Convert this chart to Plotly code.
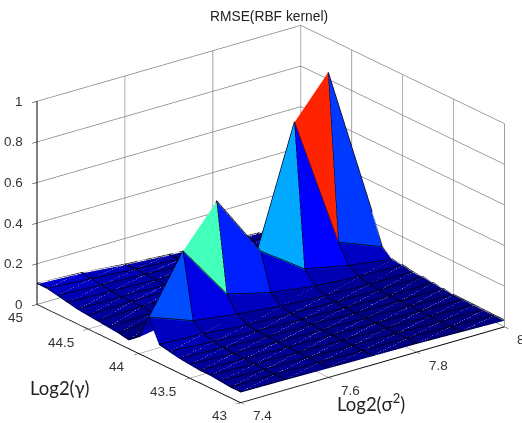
import plotly.graph_objects as go

sigma = [7.4, 7.5, 7.6, 7.7, 7.8, 7.9, 8.0]
gamma = [43.0, 43.1, 43.2, 43.3, 43.4, 43.5, 43.6, 43.7, 43.8, 43.9, 44.0,
         44.1, 44.2, 44.3, 44.4, 44.5, 44.6, 44.7, 44.8, 44.9, 45.0]
rmse = [
    [.05, .048, .045, .042, .04, .035, .03],
    [.05, .05, .045, .042, .04, .036, .03],
    [.055, .05, .046, .043, .04, .036, .032],
    [.06, .052, .047, .044, .041, .037, .033],
    [.06, .054, .048, .045, .042, .038, .034],
    [.065, .056, .05, .046, .043, .039, .035],
    [.07, .06, .052, .048, .044, .04, .04],
    [.08, .065, .056, .05, .046, .042, .045],
    [.09, .08, .06, .055, .05, .045, .05],
    [.2, .12, .09, .067, .055, .05, .05],
    [.08, .44, .165, .11, .08, .064, .06],
    [.04, .07, .60, .29, .14, .095, .063],
    [.05, .07, .09, .15, .84, .185, .10],
    [.055, .06, .07, .10, .12, 1.0, .25],
    [.06, .07, .08, .08, .08, .09, .09],
    [.065, .07, .07, .075, .075, .08, .08],
    [.07, .068, .065, .06, .055, .05, .045],
    [.08, .072, .065, .058, .05, .045, .04],
    [.09, .078, .068, .058, .05, .042, .036],
    [.1, .085, .07, .056, .048, .04, .032],
    [.1, .09, .07, .055, .045, .035, .03],
]
title_text = "RMSE(RBF kernel)"
x_ticks = [7.4, 7.6, 7.8, 8.0]
x_labels = ["7.4", "7.6", "7.8", "8"]
y_ticks = [43, 43.5, 44, 44.5, 45]
y_labels = ["43", "43.5", "44", "44.5", "45"]
z_ticks = [0, 0.2, 0.4, 0.6, 0.8, 1]
z_labels = ["0", "0.2", "0.4", "0.6", "0.8", "1"]


def jet(z):
    v = max(0.0, (z - 0.04) * 1.25) if z < 0.2 else z

    def ch(a):
        return max(0.0, min(1.0, 1.5 - abs(4 * v - a)))
    return "rgb(%d,%d,%d)" % (255 * ch(3), 255 * ch(2), 255 * ch(1))


nr, nc = len(gamma), len(sigma)
vx, vy, vz = [], [], []
for r in range(nr):
    for c in range(nc):
        vx.append(sigma[c]); vy.append(gamma[r]); vz.append(rmse[r][c])
ii, jj, kk, fc = [], [], [], []
for r in range(nr - 1):
    for c in range(nc - 1):
        a = r * nc + c
        b, d, e = a + 1, a + nc + 1, a + nc
        col = jet(rmse[r][c])
        ii += [a, a]; jj += [b, d]; kk += [d, e]; fc += [col, col]

fig = go.Figure()
fig.add_trace(go.Mesh3d(x=vx, y=vy, z=vz, i=ii, j=jj, k=kk, facecolor=fc, flatshading=True,
                        lighting=dict(ambient=1, diffuse=0, specular=0, fresnel=0),
                        hoverinfo="skip", showscale=False))

# faint seams along the diagonal of each flat cell
dx, dy, dz = [], [], []
for r in range(nr - 1):
    for c in range(nc - 1):
        if max(rmse[r][c], rmse[r][c + 1], rmse[r + 1][c], rmse[r + 1][c + 1]) < 0.13:
            dx += [sigma[c], sigma[c + 1], None]
            dy += [gamma[r], gamma[r + 1], None]
            dz += [rmse[r][c] + 0.002, rmse[r + 1][c + 1] + 0.002, None]
fig.add_trace(go.Scatter3d(x=dx, y=dy, z=dz, mode="lines", line=dict(color="rgba(190,190,255,0.3)", width=1),
                           hoverinfo="skip", showlegend=False))

lx, ly, lz = [], [], []
for r in range(nr):
    for c in range(nc):
        lx.append(sigma[c]); ly.append(gamma[r]); lz.append(rmse[r][c] + 0.004)
    lx.append(None); ly.append(None); lz.append(None)
for c in range(nc):
    for r in range(nr):
        lx.append(sigma[c]); ly.append(gamma[r]); lz.append(rmse[r][c] + 0.004)
    lx.append(None); ly.append(None); lz.append(None)
fig.add_trace(go.Scatter3d(x=lx, y=ly, z=lz, mode="lines", line=dict(color="black", width=1.5),
                           hoverinfo="skip", showlegend=False))

axis = dict(showbackground=False, gridcolor="#808080", gridwidth=1.5, showline=True, linecolor="black",
            linewidth=2, ticks="outside", ticklen=6, tickcolor="black", title=dict(text=""),
            zeroline=False, showspikes=False, showticklabels=False)
tick_font = dict(family="Liberation Sans", size=13.5, color="#333333")
scene_notes = []
for v, t in zip(z_ticks, z_labels):
    scene_notes.append(dict(x=sigma[0], y=gamma[-1], z=v, text=t, showarrow=False, xanchor="right",
                            xshift=-12, font=tick_font))
for v, t in zip(y_ticks, y_labels):
    scene_notes.append(dict(x=sigma[0], y=v, z=0, text=t, showarrow=False, xanchor="right",
                            xshift=-12, yshift=-13, font=tick_font))
for v, t in zip(x_ticks, x_labels):
    scene_notes.append(dict(x=v, y=gamma[0], z=0, text=t, showarrow=False, xanchor="left",
                            xshift=10, yshift=-13, font=tick_font))

c_x, c_y, c_z = -0.0365, 0.0283, 0.013
fig.update_layout(
    width=522, height=423, margin=dict(l=0, r=0, t=0, b=0), paper_bgcolor="white",
    showlegend=False, font=dict(family="Liberation Sans"),
    scene=dict(
        domain=dict(x=[0, 1], y=[0, 1]),
        xaxis=dict(axis, range=[7.4, 8], tickvals=x_ticks, ticktext=x_labels),
        yaxis=dict(axis, range=[43, 45], tickvals=y_ticks, ticktext=y_labels),
        zaxis=dict(axis, range=[0, 1], tickvals=z_ticks, ticktext=z_labels),
        aspectmode="manual", aspectratio=dict(x=1.576, y=1.576, z=1.035),
        camera=dict(projection=dict(type="orthographic"), up=dict(x=0, y=0, z=1),
                    center=dict(x=c_x, y=c_y, z=c_z),
                    eye=dict(x=-0.61 * 0.928 * 1.8 + c_x, y=-0.79 * 0.928 * 1.8 + c_y, z=0.372 * 1.8 + c_z)),
        annotations=scene_notes,
    ),
    annotations=[
        dict(text=title_text, x=269 / 522, y=1 - 16 / 423, xref="paper", yref="paper", showarrow=False,
             xanchor="center", yanchor="middle",
             font=dict(size=13.8, color="#222222", family="Liberation Sans")),
        dict(text="Log2(γ)", x=60 / 522, y=1 - 388 / 423, xref="paper", yref="paper", showarrow=False,
             xanchor="center", yanchor="middle", font=dict(size=18.5, color="#222222", family="Lato")),
        dict(text="Log2(σ<sup>2</sup>)", x=371 / 522, y=1 - 402 / 423, xref="paper", yref="paper", showarrow=False,
             xanchor="center", yanchor="middle", font=dict(size=18.5, color="#222222", family="Lato")),
    ],
)
fig.write_html("out.html", config=dict(displayModeBar=False),
               post_script="document.body.style.margin='0';document.documentElement.style.overflow='hidden';")
